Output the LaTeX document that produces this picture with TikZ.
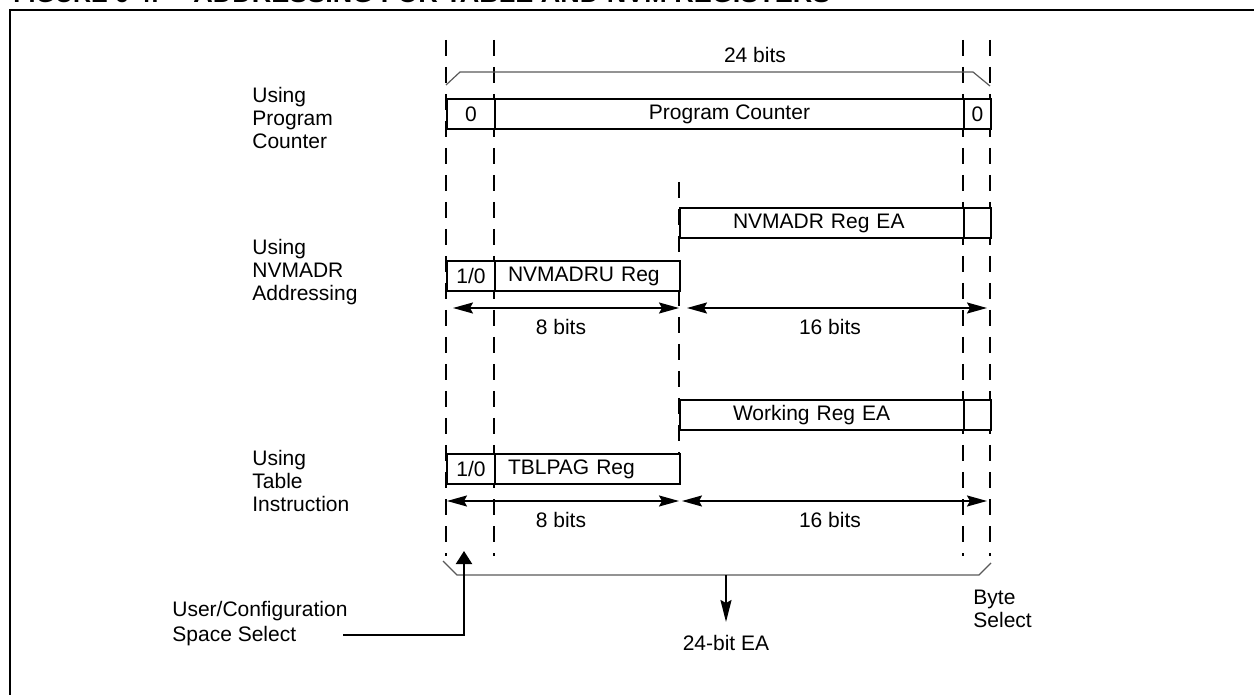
\documentclass[tikz,border=0pt]{standalone}
\usepackage{fontspec}
\setmainfont{Liberation Sans}
\usetikzlibrary{arrows.meta}
\begin{document}
\begin{tikzpicture}[x=0.5pt,y=-0.5pt,
  txt/.style={font=\fontsize{10.5}{12}\selectfont, inner sep=0pt},
  reg/.style={draw, fill=white, line width=1pt, inner ysep=0pt, anchor=north west,
    minimum height=15pt, font=\fontsize{10.5}{12}\selectfont},
  regl/.style={reg, align=left},
  guide/.style={line width=1pt, dash pattern=on 8pt off 5.5pt},
  brace/.style={line width=0.6pt, draw=black!65},
  dim/.style={line width=0.9pt, {Stealth[length=10pt,width=5.5pt,inset=1.5pt]}-{Stealth[length=10pt,width=5.5pt,inset=1.5pt]}},
  ptr/.style={line width=1pt},
  side/.style={txt, anchor=west, align=left, font=\fontsize{10.5}{11.5}\selectfont},
  ttl/.style={inner sep=0pt, anchor=base west, font=\fontsize{12.5}{14}\selectfont\bfseries}
]
\useasboundingbox (0,0) rectangle (1254,695);
% title (cut by the page, as in the reference) and frame
\node[ttl] (t1) at (13,3) {FIGURE 6-4:};
\node[ttl, font=\fontsize{13.5}{14}\selectfont\bfseries] (t2) at (193,3) {ADDRESSING FOR TABLE AND NVM REGISTERS};
\coordinate (fbl) at (10,720);
\coordinate (ftl) at (10,10);
\coordinate (ftr) at (1280,10);
\draw[line width=1.3pt] (fbl) -- (ftl) -- (ftr);

% dashed guide lines
\foreach \x/\n in {446/g1,494/g2,963/g3,990/g4}{
  \coordinate (\n t) at (\x,40);
  \coordinate (\n b) at (\x,556);
  \draw[guide] (\n t) -- (\n b);
}
\coordinate (gmt) at (679,182);
\coordinate (gmb) at (679,472);
\draw[guide] (gmt) -- (gmb);

% top brace
\coordinate (tb1) at (446,85);
\coordinate (tb2) at (460,72);
\coordinate (tb3) at (973,72);
\coordinate (tb4) at (990,86);
\draw[brace] (tb1) -- (tb2) -- (tb3) -- (tb4);
\node[txt] (w24) at (755,55) {24 bits};

% program counter row
\node[side] (lpc) at (252,118) {Using\\Program\\Counter};
\node[reg, minimum width=24pt] (pcz) at (446,98) {0};
\node[reg, minimum width=234.5pt] (pc) at (494,98) {Program Counter};
\node[reg, minimum width=13.5pt] (pcb) at (963,98) {0};

% NVMADR rows
\node[side] (lnv) at (252,272) {Using\\NVMADR\\Addressing};
\node[regl, inner xsep=26.5pt, text width=89pt] (nvea) at (679,207) {NVMADR Reg EA};
\node[reg, minimum width=13.5pt] (nveb) at (963,207) {};
\node[reg, minimum width=24pt] (nvz) at (446,260) {1/0};
\node[regl, inner xsep=6.5pt, text width=79.5pt] (nvu) at (494,260) {NVMADRU Reg};
\coordinate (a1l) at (453,308);
\coordinate (a1r) at (679,308);
\coordinate (a2l) at (687,308);
\coordinate (a2r) at (987,308);
\draw[dim] (a1l) -- (a1r);
\draw[dim] (a2l) -- (a2r);
\node[txt] (b8a) at (561,327) {8 bits};
\node[txt] (b16a) at (830,327) {16 bits};

% table instruction rows
\node[side] (ltb) at (252,481) {Using\\Table\\Instruction};
\node[regl, inner xsep=26.5pt, text width=89pt] (wrea) at (679,399) {Working Reg EA};
\node[reg, minimum width=13.5pt] (wreb) at (963,399) {};
\node[reg, minimum width=24pt] (tbz) at (446,453) {1/0};
\node[regl, inner xsep=6.5pt, text width=79.5pt] (tbp) at (494,453) {TBLPAG Reg};
\coordinate (c1l) at (447,501);
\coordinate (c1r) at (679,501);
\coordinate (c2l) at (682,501);
\coordinate (c2r) at (987,501);
\draw[dim] (c1l) -- (c1r);
\draw[dim] (c2l) -- (c2r);
\node[txt] (b8b) at (561,520) {8 bits};
\node[txt] (b16b) at (830,520) {16 bits};

% bottom brace
\coordinate (bb1) at (443,561);
\coordinate (bb2) at (457,575);
\coordinate (bb3) at (979,575);
\coordinate (bb4) at (991,563);
\draw[brace] (bb1) -- (bb2) -- (bb3) -- (bb4);

% 24-bit EA output
\coordinate (eas) at (726,575);
\coordinate (eat) at (726,622);
\node[txt, anchor=north] (ea) at (726,635) {24-bit EA};
\draw[ptr, -{Stealth[length=11pt,width=5.5pt,inset=1.5pt]}] (eas) -- (eat);

% byte select
\node[txt, anchor=north west, align=left, font=\fontsize{10.5}{11.5}\selectfont] (bs) at (973,590) {Byte\\Select};

% user/configuration space select
\node[txt, anchor=west, align=left, font=\fontsize{10.5}{12.5}\selectfont] (uc) at (172,624) {User/Configuration\\Space Select};
\coordinate (ucs) at (343,635);
\coordinate (ucc) at (464,635);
\coordinate (uct) at (464,551);
\draw[ptr, -{Triangle[length=6.5pt,width=8pt]}] (ucs) -- (ucc) -- (uct);
\end{tikzpicture}
\end{document}
